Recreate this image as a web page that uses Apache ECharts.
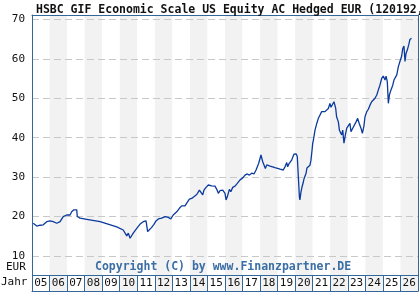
<!DOCTYPE html>
<html lang="de">
<head>
<meta charset="utf-8">
<script src="https://cdn.jsdelivr.net/npm/echarts@6/dist/echarts.min.js"></script>
<style>
  html, body { margin: 0; padding: 0; background: #fff; }
  #chart { width: 420px; height: 300px; }
</style>
</head>
<body>
<div id="chart"></div>
<script>
// Jahresspalten unten
var years = ['05','06','07','08','09','10','11','12','13','14','15','16','17','18','19','20','21','22','23','24','25','26'];
var yTicks = [10, 20, 30, 40, 50, 60, 70];

// Kursverlauf (Zeit als Dezimaljahr, Kurs in EUR)
var time = [
  2005.07,2005.27,2005.46,2005.55,2005.64,2005.74,2005.84,
  2006.03,2006.21,2006.41,2006.50,2006.60,2006.78,2006.98,
  2007.07,2007.17,2007.26,2007.39,2007.55,2007.58,2007.74,
  2008.12,2008.88,2009.83,
  2010.20,2010.30,2010.40,2010.49,2010.59,2010.77,2010.97,
  2011.16,2011.34,2011.44,2011.50,2011.59,2011.69,2011.81,2011.95,
  2012.07,2012.20,2012.39,2012.58,2012.68,2012.77,2012.91,
  2013.05,2013.25,2013.40,2013.53,2013.62,2013.72,2013.82,2013.97,
  2014.10,2014.19,2014.39,2014.54,2014.62,2014.73,2014.80,2014.92,
  2015.05,2015.15,2015.24,2015.33,2015.43,2015.53,2015.62,2015.72,2015.87,
  2016.00,2016.06,2016.13,2016.25,2016.33,2016.44,2016.57,2016.70,2016.86,
  2017.01,2017.14,2017.27,2017.39,2017.52,2017.65,2017.77,2017.84,2017.92,
  2018.05,2018.15,2018.24,2018.30,2018.38,2018.57,2018.85,
  2019.14,2019.32,2019.42,2019.52,2019.57,2019.66,2019.80,2019.93,
  2020.05,2020.12,2020.18,2020.24,2020.27,2020.33,2020.39,2020.45,2020.50,2020.62,2020.67,2020.73,2020.84,2020.90,2020.96,
  2021.00,2021.03,2021.07,2021.13,2021.23,2021.32,2021.41,2021.51,2021.60,2021.70,2021.80,2021.89,2021.98,
  2022.04,2022.14,2022.21,2022.31,2022.36,2022.46,2022.52,2022.59,2022.65,2022.71,2022.78,2022.86,2022.94,
  2023.03,2023.12,2023.18,2023.28,2023.35,2023.47,2023.56,2023.65,2023.75,2023.83,2023.92,2023.98,
  2024.08,2024.17,2024.27,2024.36,2024.45,2024.55,2024.65,2024.74,2024.83,2024.93,
  2025.02,2025.12,2025.18,2025.25,2025.31,2025.37,2025.46,2025.56,2025.63,2025.79,2025.88,2025.97,
  2026.07,2026.13,2026.20,2026.26,2026.32,2026.39,2026.47,2026.54,2026.63
];
var price = [
  18.3,17.6,17.8,18.1,17.9,17.4,18.7,
  18.9,18.7,18.3,17.9,18.7,20.0,20.4,
  20.8,20.4,21.2,21.7,21.7,20.0,19.6,
  19.3,18.7,17.4,
  16.6,16.2,15.1,15.8,14.5,15.8,17.0,
  18.1,18.7,18.3,18.9,16.2,16.4,17.2,18.0,
  18.9,19.4,19.6,20.0,20.1,19.8,19.4,
  20.4,21.2,22.1,22.7,22.9,22.7,23.4,24.4,
  24.6,25.0,25.6,26.7,26.6,25.5,26.7,27.4,
  28.0,28.3,27.8,28.3,27.7,26.9,25.9,26.6,26.7,
  25.9,24.2,25.0,26.9,26.3,27.4,27.7,28.4,29.3,
  29.8,30.5,30.8,30.5,31.0,30.8,31.8,32.2,33.5,
  35.6,33.9,32.9,32.2,33.1,32.8,32.4,
  32.0,31.8,32.6,33.7,32.6,33.5,34.3,35.8,
  35.9,35.2,30.1,25.0,24.2,26.2,27.5,28.5,29.5,31.0,32.3,32.5,33.0,34.3,36.8,
  38.6,39.2,39.4,41.9,43.6,44.9,45.7,46.6,46.8,46.6,46.2,47.4,48.7,
  47.7,48.0,49.1,47.4,45.3,44.0,41.9,41.9,40.7,41.9,38.6,40.7,42.4,
  42.6,43.6,41.5,42.4,42.8,44.0,44.9,43.6,42.4,41.1,43.0,45.3,
  46.6,47.2,48.3,49.1,49.5,50.0,50.8,52.1,53.3,55.0,
  55.6,54.6,55.6,54.2,48.7,50.8,52.1,53.3,54.6,55.9,58.0,59.3,
  60.7,62.6,63.2,59.3,61.4,62.2,63.5,64.9,65.2
];

var frame = '#336699';
var mono = 'DejaVu Sans Mono';
var yMin = 1.13, yMax = 71.09, rowTop = 5.18;   // rowTop = Linie über der Jahresleiste

var myChart = echarts.init(document.getElementById('chart'), null, { renderer: 'canvas' });

var data = time.map(function (t, i) { return [t, price[i]]; });

option = {
  animation: false,
  title: {
    text: 'HSBC GIF Economic Scale US Equity AC Hedged EUR (120192,',
    left: 31, top: -1,
    textStyle: { fontFamily: mono, fontWeight: 'bold', fontSize: 11.5, color: '#111' }
  },
  grid: { left: 32, right: 2, top: 15, bottom: 9, containLabel: false },
  xAxis: [
    {
      type: 'value', min: 2005, max: 2027, position: 'top',
      axisLine: { show: true, lineStyle: { color: frame } },
      axisTick: { show: false }, axisLabel: { show: false }, splitLine: { show: false }
    },
    {
      type: 'category', data: years, position: 'bottom', boundaryGap: true, z: -1,
      axisLine: { show: true, lineStyle: { color: frame } },
      axisTick: { show: true, inside: true, length: 16, interval: 0, lineStyle: { color: frame } },
      axisLabel: { inside: true, interval: 0, margin: 2, fontFamily: mono, fontSize: 11, color: '#111' },
      splitLine: { show: false },
      splitArea: { show: true, interval: 0, areaStyle: { color: ['#ffffff', '#f2f2f2'] } }
    }
  ],
  yAxis: [
    {
      type: 'value', min: yMin, max: yMax,
      axisLine: { show: true, lineStyle: { color: frame } },
      axisTick: { show: false, customValues: yTicks },
      axisLabel: { customValues: yTicks, margin: 7, fontFamily: mono, fontSize: 11, color: '#111' },
      splitLine: { show: true, lineStyle: { color: '#c8c8c8', type: [7, 4], width: 1 } }
    },
    {
      type: 'value', min: yMin, max: yMax, position: 'right',
      axisLine: { show: true, lineStyle: { color: frame } },
      axisTick: { show: false }, axisLabel: { show: false }, splitLine: { show: false }
    }
  ],
  graphic: [
    { type: 'text', left: 6, top: 262, style: { text: 'EUR', font: '11px "DejaVu Sans Mono"', fill: '#111' } },
    { type: 'text', left: 1, top: 277, style: { text: 'Jahr', font: '11px "DejaVu Sans Mono"', fill: '#111' } },
    { type: 'text', left: 95, top: 261, style: { text: 'Copyright (C) by www.Finanzpartner.DE', font: 'bold 11.5px "DejaVu Sans Mono"', fill: '#3a6ea5' } }
  ],
  series: [{
    type: 'line', xAxisIndex: 0, yAxisIndex: 0,
    data: data,
    showSymbol: false,
    lineStyle: { color: '#0b3a9e', width: 1.3 },
    markLine: {
      silent: true, symbol: 'none', label: { show: false },
      lineStyle: { color: frame, type: 'solid', width: 1 },
      data: [{ yAxis: rowTop }]
    }
  }]
};

myChart.setOption(option);
</script>
</body>
</html>
